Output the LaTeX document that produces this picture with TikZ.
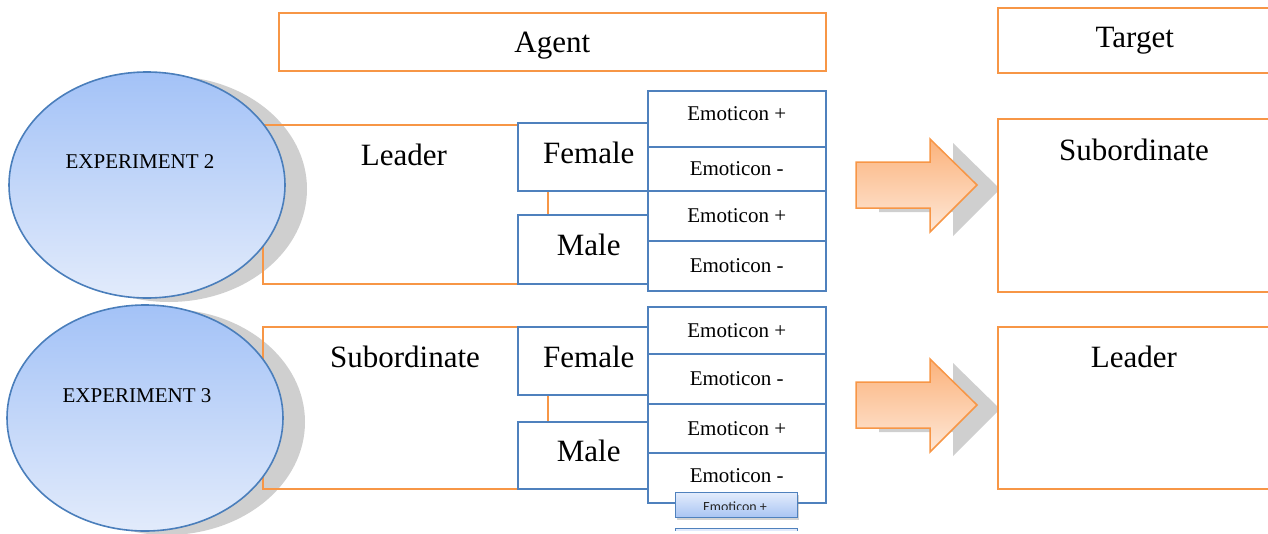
\documentclass[tikz,border=0pt]{standalone}
\usepackage{fontspec}
\setmainfont{Liberation Serif}
\newfontfamily\btnfont{Carlito}
\usetikzlibrary{shapes.geometric,shadows}

\definecolor{accOrange}{HTML}{F79646}
\definecolor{accBlue}{HTML}{4F81BD}
\definecolor{ellLine}{HTML}{4A7EBB}
\definecolor{shadowGrey}{HTML}{CFCFCF}
\definecolor{ellTop}{HTML}{A3C2F7}
\definecolor{ellBot}{HTML}{E2EBFB}
\definecolor{arrTop}{HTML}{FBB27B}
\definecolor{arrBot}{HTML}{FEE8D8}
\definecolor{btnTop}{HTML}{E3ECFC}
\definecolor{btnBot}{HTML}{A8C4F3}

\tikzset{
  bigtext/.style={font=\fontsize{31}{36}\selectfont},
  smalltext/.style={font=\fontsize{21}{25}\selectfont},
  obox/.style={draw=accOrange, line width=1.5pt, fill=white, inner sep=0pt, anchor=north west},
  bbox/.style={draw=accBlue, line width=1.5pt, fill=white, inner sep=0pt, anchor=north west},
  frame/.style={draw=accOrange, line width=1.5pt, inner sep=0pt, anchor=north west},
  ellshadow/.style={ellipse, fill=shadowGrey, minimum width=276pt, minimum height=226pt, inner sep=0pt},
  expt/.style={ellipse, draw=ellLine, line width=1.6pt, top color=ellTop, bottom color=ellBot,
    minimum width=276pt, minimum height=226pt, inner sep=0pt},
  emo/.style={bbox, smalltext, minimum width=178pt},
  gender/.style={bbox, bigtext, minimum width=130pt},
  btn/.style={draw=accBlue, line width=1.2pt, top color=btnTop, bottom color=btnBot, inner sep=0pt,
    anchor=north west, minimum width=122pt, minimum height=25pt,
    drop shadow={opacity=0.35, shadow xshift=1pt, shadow yshift=-2pt}},
  pics/blockarrow/.style={code={
    \fill[shadowGrey] (23,-19) -- (97,-19) -- (97,-42) -- (144,4) -- (97,51) -- (97,27) -- (23,27) -- cycle;
    \path[draw=accOrange, line width=1.5pt, top color=arrTop, bottom color=arrBot, line join=miter]
      (0,-23) -- (74,-23) -- (74,-46) -- (121,0) -- (74,47) -- (74,23) -- (0,23) -- cycle;
  }}
}
% shifts a label inside its box, right by #1 and up by #2, keeping its size
\newcommand\nudge[3]{\hspace*{#1}\raisebox{#2}[\height][\depth]{#3}}

\begin{document}
\begin{tikzpicture}[x=1pt, y=-1pt]
  \useasboundingbox (0,0) rectangle (1268,533);
  \clip (0,0) rectangle (1268,533);

  % header row
  \node[obox, bigtext, minimum width=547pt, minimum height=58pt] (agent) at (278,12) {\nudge{0pt}{-4pt}{Agent}};
  \node[obox, bigtext, minimum width=274pt, minimum height=65pt] (target) at (997,7) {Target};

  % shadows of the experiment ellipses
  \node[ellshadow] (ex2s) at (169,189) {};
  \node[ellshadow] (ex3s) at (167,422) {};

  % role frames behind the ellipses
  \node[frame, minimum width=285pt, minimum height=159pt] (leadframe) at (262,124) {};
  \node[frame, minimum width=285pt, minimum height=162pt] (subframe) at (262,326) {};

  % experiments
  \node[expt, label={[name=ex2t, font=\fontsize{21}{25}\selectfont, xshift=-7pt, yshift=23pt]center:EXPERIMENT 2}] (ex2) at (147,185) {};
  \node[expt, label={[name=ex3t, font=\fontsize{21}{25}\selectfont, xshift=-8pt, yshift=22pt]center:EXPERIMENT 3}] (ex3) at (145,418) {};

  \node[bigtext] (leadtxt) at (404,155) {Leader};
  \node[bigtext] (subtxt) at (405,357) {Subordinate};

  % experiment 2: leader agents
  \node[gender, minimum height=68pt] (f1) at (517,122) {\nudge{12pt}{4pt}{Female}};
  \node[gender, minimum height=69pt] (m1) at (517,214) {\nudge{12pt}{4pt}{Male}};
  \node[emo, minimum height=56pt] (f1p) at (647,90) {\nudge{0pt}{5pt}{Emoticon +}};
  \node[emo, minimum height=44pt] (f1m) at (647,146) {Emoticon -};
  \node[emo, minimum height=50pt] (m1p) at (647,190) {Emoticon +};
  \node[emo, minimum height=50pt] (m1m) at (647,240) {Emoticon -};

  % experiment 3: subordinate agents
  \node[gender, minimum height=68pt] (f2) at (517,326) {\nudge{12pt}{4pt}{Female}};
  \node[gender, minimum height=67pt] (m2) at (517,421) {\nudge{12pt}{4pt}{Male}};
  \node[emo, minimum height=47pt] (f2p) at (647,306) {Emoticon +};
  \node[emo, minimum height=50pt] (f2m) at (647,353) {Emoticon -};
  \node[emo, minimum height=49pt] (m2p) at (647,403) {Emoticon +};
  \node[emo, minimum height=50pt] (m2m) at (647,452) {\nudge{0pt}{2pt}{Emoticon -}};

  % floating buttons
  \node[btn] (btn1) at (675,492) {};
  \begin{scope}
    \clip (670,520) rectangle (805,530);
    \node[btn] (btn2) at (675,528) {};
  \end{scope}
  \begin{scope}
    \clip (675,492) rectangle (797,509);
    \node[font=\btnfont\fontsize{14}{16}\selectfont, text=black!85, anchor=base, inner sep=0pt] (btntxt) at (735,511) {Emoticon +};
  \end{scope}

  % arrows towards targets
  \pic (arr1) at (856,185) {blockarrow};
  \pic (arr2) at (856,405) {blockarrow};

  % targets
  \node[obox, minimum width=274pt, minimum height=173pt] (tsub) at (997,118) {};
  \node[obox, minimum width=274pt, minimum height=162pt] (tlead) at (997,326) {};
  \node[bigtext] (tsubtxt) at (1134,150) {Subordinate};
  \node[bigtext] (tleadtxt) at (1134,357) {Leader};
\end{tikzpicture}
\end{document}
